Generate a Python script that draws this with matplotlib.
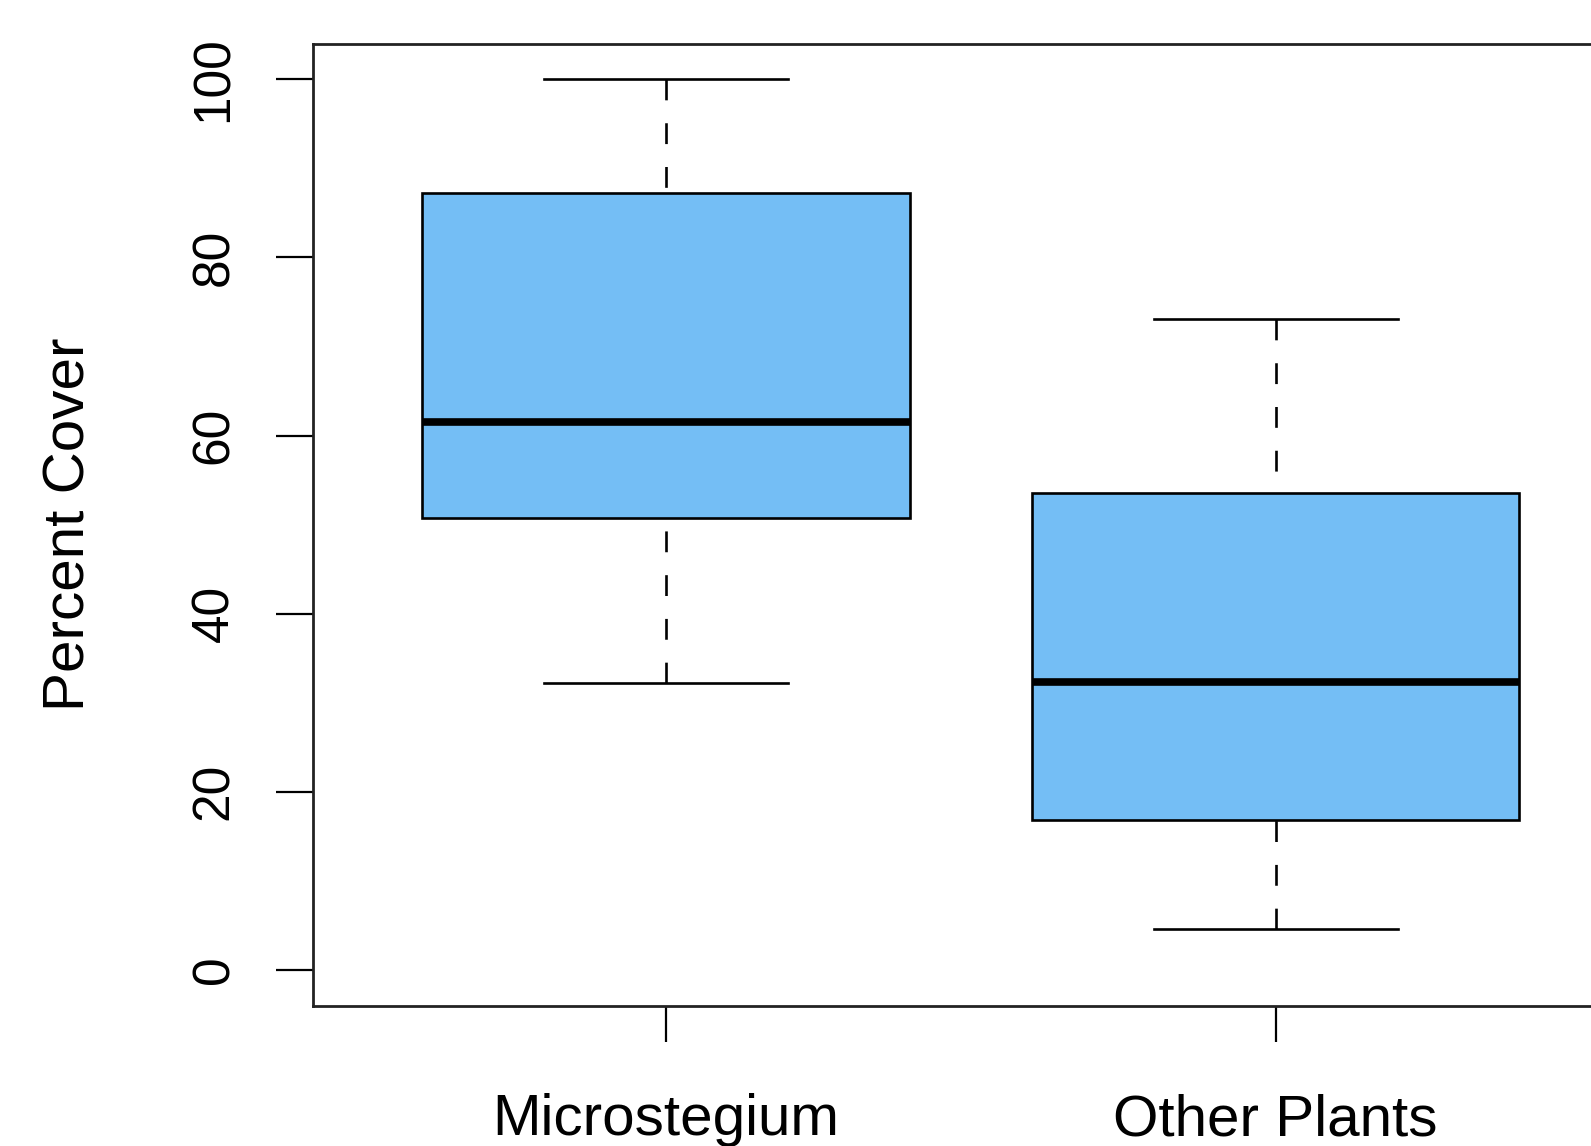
import matplotlib
matplotlib.use("Agg")
import matplotlib.pyplot as plt

# data (percent cover)
groups = ["Microstegium", "Other Plants"]
whisker_low = [32.2, 4.6]
q1 = [50.7, 16.8]
median = [61.5, 32.3]
q3 = [87.2, 53.6]
whisker_high = [100.0, 73.1]
yticks = [0, 20, 40, 60, 80, 100]

FILL = "#74BEF5"
LW = 1.9

plt.rcParams["font.family"] = ["Liberation Sans", "DejaVu Sans"]

stats = [
    {"label": g, "whislo": lo, "q1": a, "med": m, "q3": b, "whishi": hi, "fliers": []}
    for g, lo, a, m, b, hi in zip(groups, whisker_low, q1, median, q3, whisker_high)
]

fig = plt.figure(figsize=(15.91, 11.46), dpi=100)
ax = fig.add_axes([0.1965, 0.1225, 0.8275, 0.8394])

bp = ax.bxp(stats, positions=[1, 2], widths=0.8, capwidths=0.4, patch_artist=True,
            boxprops=dict(facecolor=FILL, edgecolor="black", linewidth=LW),
            medianprops=dict(color="black", linewidth=5.5, solid_capstyle="butt"),
            whiskerprops=dict(color="black", linewidth=LW,
                              linestyle=(0, (15 / LW, 16.5 / LW))),
            capprops=dict(color="black", linewidth=LW))
# R draws whiskers from the cap towards the box, so the dash pattern starts at the cap
for w in bp["whiskers"]:
    w.set_ydata(w.get_ydata()[::-1])

ax.set_xlim(0.42, 2.58)
ax.set_ylim(-4, 104)
ax.set_yticks(yticks)
ax.set_yticklabels([str(v) for v in yticks], rotation=90, va="center")
ax.set_xticks([1, 2])
ax.set_xticklabels(groups)

ax.tick_params(axis="y", length=27, width=1.6, pad=26, labelsize=37)
ax.tick_params(axis="x", length=26, width=1.6, pad=37, labelsize=42)
for s in ax.spines.values():
    s.set_linewidth(2.0)
    s.set_color("#222222")

ax.set_ylabel("Percent Cover", fontsize=42)
ax.yaxis.set_label_coords(-0.164, 0.5)

fig.savefig("out.png", dpi=100)
